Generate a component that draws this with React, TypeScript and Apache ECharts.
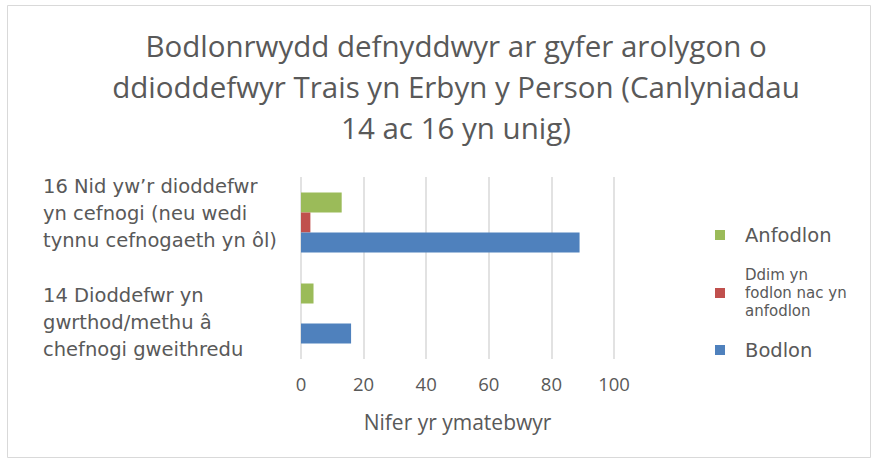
import React, { useEffect, useRef } from "react";
import * as echarts from "echarts";

const titleLines = [
  "Bodlonrwydd defnyddwyr ar gyfer arolygon o",
  "ddioddefwyr Trais yn Erbyn y Person (Canlyniadau",
  "14 ac 16 yn unig)",
];
const categories = [
  "14 Dioddefwr yn\ngwrthod/methu â\nchefnogi gweithredu",
  "16 Nid yw’r dioddefwr\nyn cefnogi (neu wedi\ntynnu cefnogaeth yn ôl)",
];
const seriesNames = ["Anfodlon", "Ddim yn fodlon nac yn anfodlon", "Bodlon"];
const anfodlon = [4, 13];
const ddim = [0, 3];
const bodlon = [16, 89];
const xTicks = { min: 0, max: 100, interval: 20 };
const xName = "Nifer yr ymatebwyr";
const colors = ["#9bbb59", "#c0504d", "#4f81bd"];

export default function App() {
  const ref = useRef<HTMLDivElement>(null);
  useEffect(() => {
    if (!ref.current) return;
    const chart = echarts.init(ref.current, undefined, { renderer: "svg" });
    const textColor = "#595959";
    const legendBase = {
      orient: "vertical" as const,
      left: 710,
      icon: "rect",
      itemWidth: 10,
      itemHeight: 10,
      selectedMode: false,
    };
    chart.setOption({
      animation: false,
      backgroundColor: "#ffffff",
      title: {
        text: titleLines.join("\n"),
        left: 451,
        top: 20,
        textAlign: "center",
        textStyle: {
          fontFamily: "Open Sans",
          fontSize: 29.5,
          fontWeight: "normal",
          color: textColor,
          lineHeight: 41,
        },
      },
      graphic: [
        {
          type: "rect",
          shape: { x: 7.5, y: 5.5, width: 863, height: 452 },
          style: { fill: "none", stroke: "#d9d9d9", lineWidth: 1 },
          silent: true,
        },
      ],
      legend: [
        {
          ...legendBase,
          top: 220,
          data: [seriesNames[0]],
          textStyle: { fontFamily: "DejaVu Sans", fontSize: 19.5, color: textColor, lineHeight: 20, padding: [0, 0, 0, 15] },
        },
        {
          ...legendBase,
          top: 261,
          data: [seriesNames[1]],
          formatter: () => "Ddim yn\nfodlon nac yn\nanfodlon",
          textStyle: { fontFamily: "DejaVu Sans", fontSize: 15, color: textColor, lineHeight: 18, padding: [0, 0, 0, 15] },
        },
        {
          ...legendBase,
          top: 335,
          data: [seriesNames[2]],
          textStyle: { fontFamily: "DejaVu Sans", fontSize: 19.5, color: textColor, lineHeight: 20, padding: [0, 0, 0, 15] },
        },
      ],
      grid: { left: 301, right: 266, top: 177, bottom: 104, containLabel: false, outerBoundsMode: "none" },
      xAxis: {
        type: "value",
        min: xTicks.min,
        max: xTicks.max,
        interval: xTicks.interval,
        axisLine: { show: false },
        axisTick: { show: false },
        splitLine: { show: true, lineStyle: { color: "#d9d9d9", width: 1.5 } },
        axisLabel: { color: textColor, fontFamily: "Open Sans", fontSize: 18.5, margin: 15 },
        name: xName,
        nameLocation: "middle",
        nameGap: 52,
        nameTextStyle: { color: textColor, fontFamily: "Open Sans", fontSize: 21 },
      },
      yAxis: {
        type: "category",
        data: categories,
        axisLine: { show: false },
        axisTick: { show: false },
        axisLabel: {
          align: "left",
          margin: 258,
          interval: 0,
          hideOverlap: false,
          formatter: (value: string, index: number) => {
            const lines = value.split("\n").map((l) => `{t|${l}}`).join("\n");
            return index === 1 ? `${lines}\n{s1| }` : `{s2| }\n${lines}`;
          },
          rich: {
            t: { color: textColor, fontFamily: "DejaVu Sans", fontSize: 19.5, lineHeight: 27, align: "left" },
            s1: { fontSize: 1, lineHeight: 19 },
            s2: { fontSize: 1, lineHeight: 17 },
          },
        },
      },
      series: [
        { name: seriesNames[0], type: "bar", data: anfodlon, barWidth: 20, barGap: "0%", itemStyle: { color: colors[0] } },
        { name: seriesNames[1], type: "bar", data: ddim, barWidth: 20, barGap: "0%", itemStyle: { color: colors[1] } },
        { name: seriesNames[2], type: "bar", data: bodlon, barWidth: 20, barGap: "0%", itemStyle: { color: colors[2] } },
      ],
    });
    return () => chart.dispose();
  }, []);
  return (
    <div
      ref={ref}
      style={{ position: "absolute", left: 0, top: 0, width: 880, height: 463 }}
    />
  );
}
